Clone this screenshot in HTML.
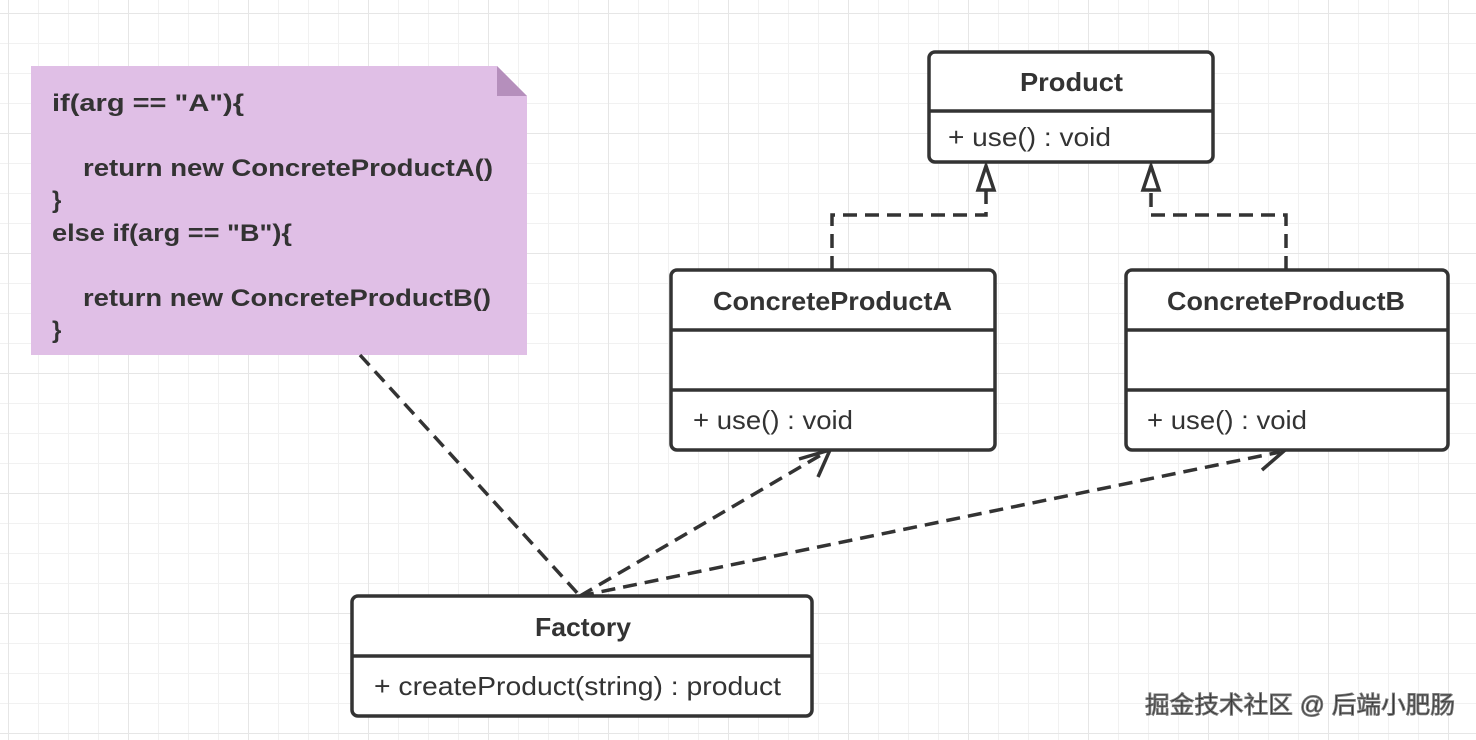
<!DOCTYPE html>
<html><head><meta charset="utf-8"><style>
html,body{margin:0;padding:0;background:#fff;}
body{width:1476px;height:740px;overflow:hidden;position:relative;
background-image:
linear-gradient(#e6e6e6 1px,transparent 1px),
linear-gradient(90deg,#e6e6e6 1px,transparent 1px),
linear-gradient(#f1f1f1 1px,transparent 1px),
linear-gradient(90deg,#f1f1f1 1px,transparent 1px);
background-size:120px 120px,120px 120px,30px 30px,30px 30px;
background-position:0 13px,8px 0,0 13px,8px 0;}
svg{position:absolute;left:0;top:0;}
text{font-family:"Liberation Sans","Noto Sans CJK SC",sans-serif;fill:#333;}
</style></head><body>
<svg width="1476" height="740" viewBox="0 0 1476 740">
<polygon points="31,66 497,66 527,96 527,355 31,355" fill="#e0bfe6"/>
<polygon points="497,66 527,96 497,96" fill="#b58fbc"/>
<g font-size="24" font-weight="bold" lengthAdjust="spacingAndGlyphs">
<text x="52" y="111" textLength="192" lengthAdjust="spacingAndGlyphs">if(arg == "A"){</text>
<text x="83" y="176" textLength="410" lengthAdjust="spacingAndGlyphs">return new ConcreteProductA()</text>
<text x="52" y="208">}</text>
<text x="52" y="241" textLength="240" lengthAdjust="spacingAndGlyphs">else if(arg == "B"){</text>
<text x="83" y="306" textLength="408" lengthAdjust="spacingAndGlyphs">return new ConcreteProductB()</text>
<text x="52" y="338">}</text>
</g>
<g fill="none" stroke="#333" stroke-width="3.5" stroke-dasharray="14,8">
<path d="M360,355 L580,596"/>
<path d="M580,596 L826,452"/>
<path d="M580,596 L1280,452"/>
<path d="M832,270 L832,215 L986,215 L986,185"/>
<path d="M1286,270 L1286,215 L1151,215 L1151,185"/>
</g>
<g fill="#fff" stroke="#333" stroke-width="3.5">
<polygon points="986,166 978,190 994,190"/>
<polygon points="1151,166 1143,190 1159,190"/>
</g>
<g fill="none" stroke="#333" stroke-width="3.5">
<path d="M799,459 L830,450 L818,477"/>
<path d="M1256,442 L1284,451 L1262,470"/>
</g>
<g fill="#fff" stroke="#333" stroke-width="3.5">
<rect x="929" y="52" width="284" height="110" rx="6"/>
<line x1="929" y1="111" x2="1213" y2="111"/>
<rect x="671" y="270" width="324" height="180" rx="6"/>
<line x1="671" y1="330" x2="995" y2="330"/>
<line x1="671" y1="390" x2="995" y2="390"/>
<rect x="1126" y="270" width="322" height="180" rx="6"/>
<line x1="1126" y1="330" x2="1448" y2="330"/>
<line x1="1126" y1="390" x2="1448" y2="390"/>
<rect x="352" y="596" width="460" height="120" rx="6"/>
<line x1="352" y1="656" x2="812" y2="656"/>
</g>
<g font-size="26">
<text x="1020" y="91" font-weight="bold" textLength="103" lengthAdjust="spacingAndGlyphs">Product</text>
<text x="948" y="146" textLength="163" lengthAdjust="spacingAndGlyphs">+ use() : void</text>
<text x="713" y="310" font-weight="bold" textLength="239" lengthAdjust="spacingAndGlyphs">ConcreteProductA</text>
<text x="693" y="429" textLength="160" lengthAdjust="spacingAndGlyphs">+ use() : void</text>
<text x="1167" y="310" font-weight="bold" textLength="238" lengthAdjust="spacingAndGlyphs">ConcreteProductB</text>
<text x="1147" y="429" textLength="160" lengthAdjust="spacingAndGlyphs">+ use() : void</text>
<text x="535" y="636" font-weight="bold" textLength="96" lengthAdjust="spacingAndGlyphs">Factory</text>
<text x="374" y="695" textLength="407" lengthAdjust="spacingAndGlyphs">+ createProduct(string) : product</text>
</g>
<text x="1145" y="713" font-size="24" fill="#fff" stroke="#777" stroke-width="1" textLength="310" lengthAdjust="spacingAndGlyphs">掘金技术社区 @ 后端小肥肠</text>
</svg>
</body></html>
